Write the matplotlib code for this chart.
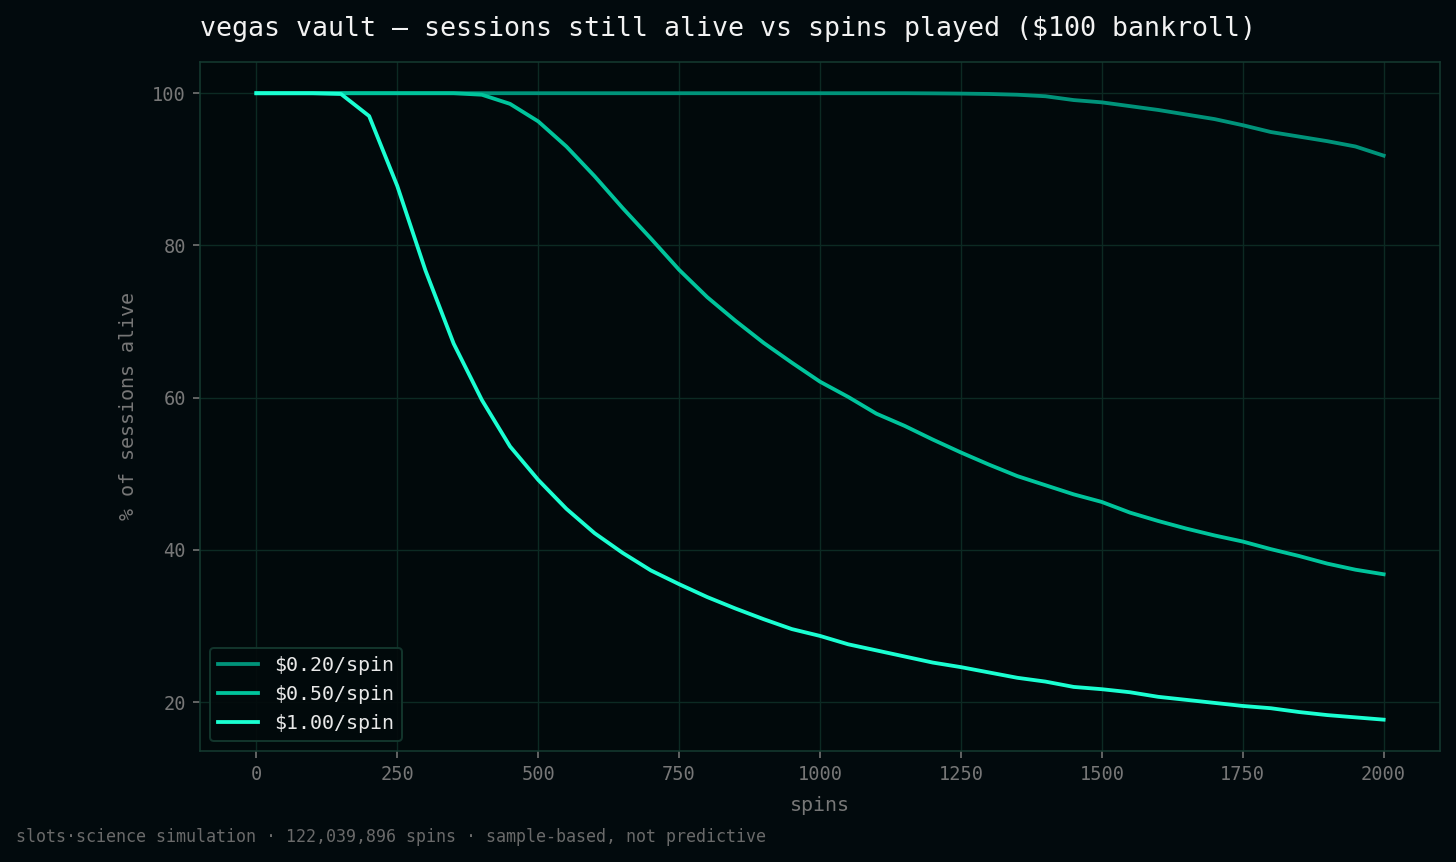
import matplotlib.pyplot as plt

spins = list(range(0, 2001, 50))

alive_020 = [100, 100, 100, 100, 100, 100, 100, 100, 100, 100,
             100, 100, 100, 100, 100, 100, 100, 100, 100, 100,
             100, 100, 100, 100, 99.98, 99.95, 99.9, 99.8, 99.6, 99.1,
             98.8, 98.3, 97.8, 97.2, 96.6, 95.8, 94.9, 94.3, 93.7, 93.0, 91.8]
alive_050 = [100, 100, 100, 100, 100, 100, 100, 100, 99.8, 98.6,
             96.3, 93.0, 89.1, 84.9, 80.9, 76.8, 73.2, 70.1, 67.2, 64.6,
             62.1, 60.1, 57.9, 56.3, 54.5, 52.8, 51.2, 49.7, 48.5, 47.3,
             46.3, 44.9, 43.8, 42.8, 41.9, 41.1, 40.1, 39.2, 38.2, 37.4, 36.8]
alive_100 = [100, 100, 100, 99.9, 97.0, 87.8, 76.7, 67.1, 59.7, 53.6,
             49.2, 45.4, 42.2, 39.6, 37.3, 35.5, 33.8, 32.3, 30.9, 29.6,
             28.7, 27.6, 26.8, 26.0, 25.2, 24.6, 23.9, 23.2, 22.7, 22.0,
             21.7, 21.3, 20.7, 20.3, 19.9, 19.5, 19.2, 18.7, 18.3, 18.0, 17.7]

etiquetas = ["$0.20/spin", "$0.50/spin", "$1.00/spin"]
colores = ["#00937a", "#00c49c", "#1affd2"]

bg = "#020a0d"
plt.rcParams["font.family"] = "DejaVu Sans Mono"

fig = plt.figure(figsize=(1456 / 144, 862 / 144), dpi=144, facecolor=bg)
ax = fig.add_axes([0.1374, 0.1288, 0.8516, 0.7994])
ax.set_facecolor("#01090b")

for serie, etiqueta, color in zip([alive_020, alive_050, alive_100], etiquetas, colores):
    ax.plot(spins, serie, color=color, lw=1.9, label=etiqueta)

ax.grid(True, color="#0c2a23", lw=0.7)
ax.set_axisbelow(True)
for s in ax.spines.values():
    s.set_color("#14392f")
ax.tick_params(colors="#777777", labelsize=9.3, length=3.5)
ax.set_xlabel("spins", color="#777777", fontsize=10, labelpad=6)
ax.set_ylabel("% of sessions alive", color="#777777", fontsize=10, labelpad=7)
ax.set_xticks([0, 250, 500, 750, 1000, 1250, 1500, 1750, 2000])
ax.set_yticks([20, 40, 60, 80, 100])

ax.set_title("vegas vault — sessions still alive vs spins played ($100 bankroll)",
             loc="left", color="#f2f2f2", fontsize=13.3, pad=13)

leg = ax.legend(loc="lower left", fontsize=10, facecolor="#02090b",
                edgecolor="#14392f", framealpha=0.9, labelcolor="#e8e8e8")

fig.text(0.011, 0.023, "slots·science simulation · 122,039,896 spins · sample-based, not predictive",
         color="#6a6a6a", fontsize=8.3)

fig.savefig("out.png", dpi=144, facecolor=bg)
